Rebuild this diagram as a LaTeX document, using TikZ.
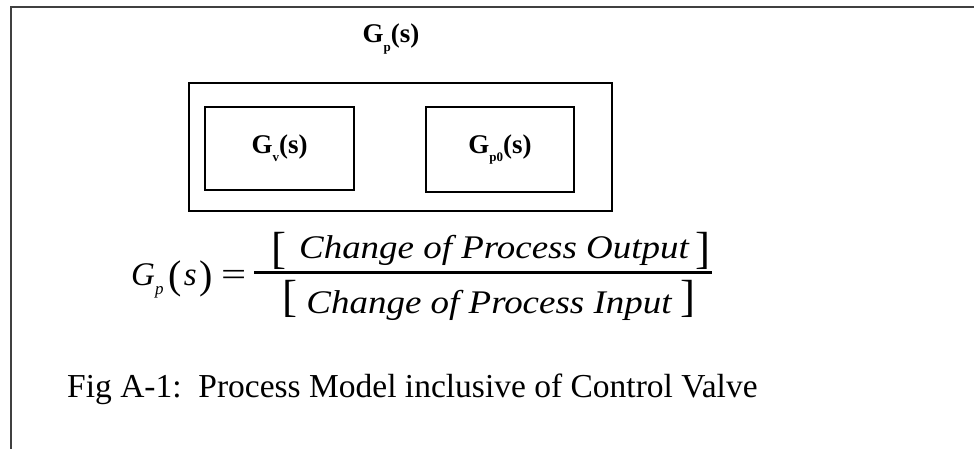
\documentclass[tikz,border=0pt]{standalone}
\usepackage{fontspec}
\setmainfont{Liberation Serif}
\usetikzlibrary{positioning}
\newcommand{\lowidx}[1]{\raisebox{-0.3em}{\fontsize{13}{13}\selectfont #1}}
\newcommand{\tallpar}[1]{\raisebox{-0.12em}{\fontsize{40}{40}\selectfont\upshape #1}}

\begin{document}
\begin{tikzpicture}[x=1pt, y=-1pt,
  blk/.style={draw=black, line width=1.6pt, inner sep=0pt},
  tf/.style={font=\fontsize{27}{27}\selectfont\bfseries},
  eq/.style={font=\fontsize{33}{33}\selectfont\itshape, inner sep=0pt},
  brk/.style={font=\fontsize{45}{45}\selectfont, inner sep=0pt}]
\useasboundingbox (0,0) rectangle (974,449);
% page frame
\draw[line width=2.2pt, black!75] (11,449) -- (11,7) -- (974,7);

% blocks
\node[blk, minimum width=423, minimum height=128] (gp) at (400.5,147) {};
\node[blk, tf, minimum width=149, minimum height=83] (gv) at (279.5,148.5) {G\lowidx{v}(s)};
\node[blk, tf, minimum width=148, minimum height=85] (gpz) at (500,149.5) {G\lowidx{p0}(s)};
\node[tf, inner sep=0pt] (title) at (391,39) {G\lowidx{p}(s)};

% transfer function
\node[eq, anchor=base west] (lhs) at (131,285) {G\lowidx{\fontsize{17}{17}\selectfont p}\hspace{5pt}\tallpar{(}\hspace{2pt}s\hspace{3pt}\tallpar{)}\hspace{8pt}\upshape\scalebox{1.35}[1]{=}};
\node[eq, anchor=base] (num) at (494,258) {\scalebox{1.12}[1]{Change of Process Output}};
\node[eq, anchor=base] (den) at (489,313) {\scalebox{1.12}[1]{Change of Process Input}};
\node[brk, anchor=base] (numl) at (279,263) {[};
\node[brk, anchor=base] (numr) at (703,263) {]};
\node[brk, anchor=base] (denl) at (290,311) {[};
\node[brk, anchor=base] (denr) at (688,311) {]};
\draw[line width=3pt] (lhs.east) ++(8,-7) coordinate (bl) -- (bl -| 712,0);

% caption
\node[anchor=base west, inner sep=0pt, font=\fontsize{33.5}{33.5}\selectfont] (cap) at (67,397) {Fig A-1:\ \ Process Model inclusive of Control Valve};
\end{tikzpicture}
\end{document}
